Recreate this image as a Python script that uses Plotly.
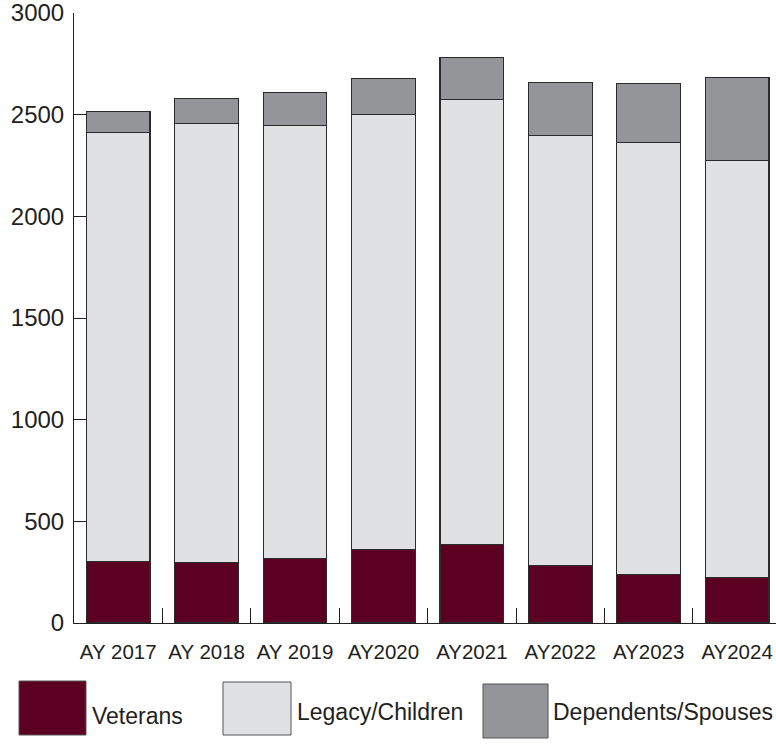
import plotly.graph_objects as go

years = ["AY 2017", "AY 2018", "AY 2019", "AY2020", "AY2021", "AY2022", "AY2023", "AY2024"]
veterans = [301, 299, 317, 360, 386, 283, 238, 224]
legacy_children = [2111, 2159, 2128, 2141, 2189, 2113, 2125, 2051]
dependents_spouses = [104, 120, 166, 175, 205, 261, 291, 406]
y_ticks = [0, 500, 1000, 1500, 2000, 2500, 3000]

series_names = ["Veterans", "Legacy/Children", "Dependents/Spouses"]
colors = ["#5c0022", "#e0e1e3", "#939598"]
text_color = "#231f20"
FONT = "Liberation Sans"

W, H = 776, 745
ML, MR, MT, MB = 74, 0, 13, 122

fig = go.Figure()
for name, vals, col in zip(series_names, [veterans, legacy_children, dependents_spouses], colors):
    fig.add_trace(go.Bar(
        x=years, y=vals, name=name, width=0.72,
        marker=dict(color=col, line=dict(color="#2b2b2b", width=1.2)),
        showlegend=False,
    ))

plot_w = W - ML - MR
plot_h = H - MT - MB

def px_x(p):
    return (p - ML) / plot_w

def px_y(p):
    return (H - MB - p) / plot_h

# Custom legend: large swatches with labels
legend_items = [
    (19, 86, 681, 735, 90, 716),
    (223, 291, 682, 735, 295, 712),
    (483, 548, 684, 738, 551, 712),
]
for (x0, x1, y0, y1, tx, ty), name, col in zip(legend_items, series_names, colors):
    fig.add_shape(type="rect", xref="paper", yref="paper",
                  x0=px_x(x0), x1=px_x(x1), y0=px_y(y1), y1=px_y(y0),
                  fillcolor=col, line=dict(color="#555555", width=1))
    fig.add_annotation(xref="paper", yref="paper", x=px_x(tx), y=px_y(ty),
                       text=name, showarrow=False, xanchor="left", yanchor="middle",
                       font=dict(family=FONT, size=23, color=text_color))

fig.update_layout(
    width=W, height=H,
    margin=dict(l=ML, r=MR, t=MT, b=MB),
    barmode="stack",
    plot_bgcolor="white", paper_bgcolor="white",
    font=dict(family=FONT, color=text_color),
)
fig.update_xaxes(
    range=[-0.5, 7.44], showgrid=False,
    showline=True, linecolor="#231f20", linewidth=1,
    ticks="inside", ticklen=15, tickcolor="#231f20", tickwidth=1,
    tickson="boundaries", layer="below traces", ticklabelstandoff=10,
    tickfont=dict(family=FONT, size=20.5, color=text_color),
)
fig.update_yaxes(
    range=[0, 3000], tickvals=y_ticks, showgrid=False, zeroline=False,
    showline=True, linecolor="#231f20", linewidth=1,
    ticks="inside", ticklen=17, tickcolor="#231f20", tickwidth=1,
    layer="below traces", ticklabelstandoff=4, ticklabeloverflow="allow",
    tickfont=dict(family=FONT, size=24, color=text_color),
)

fig.write_html(
    "out.html",
    config={"displayModeBar": False},
    post_script="document.body.style.margin='0';document.body.style.overflow='hidden';",
)
